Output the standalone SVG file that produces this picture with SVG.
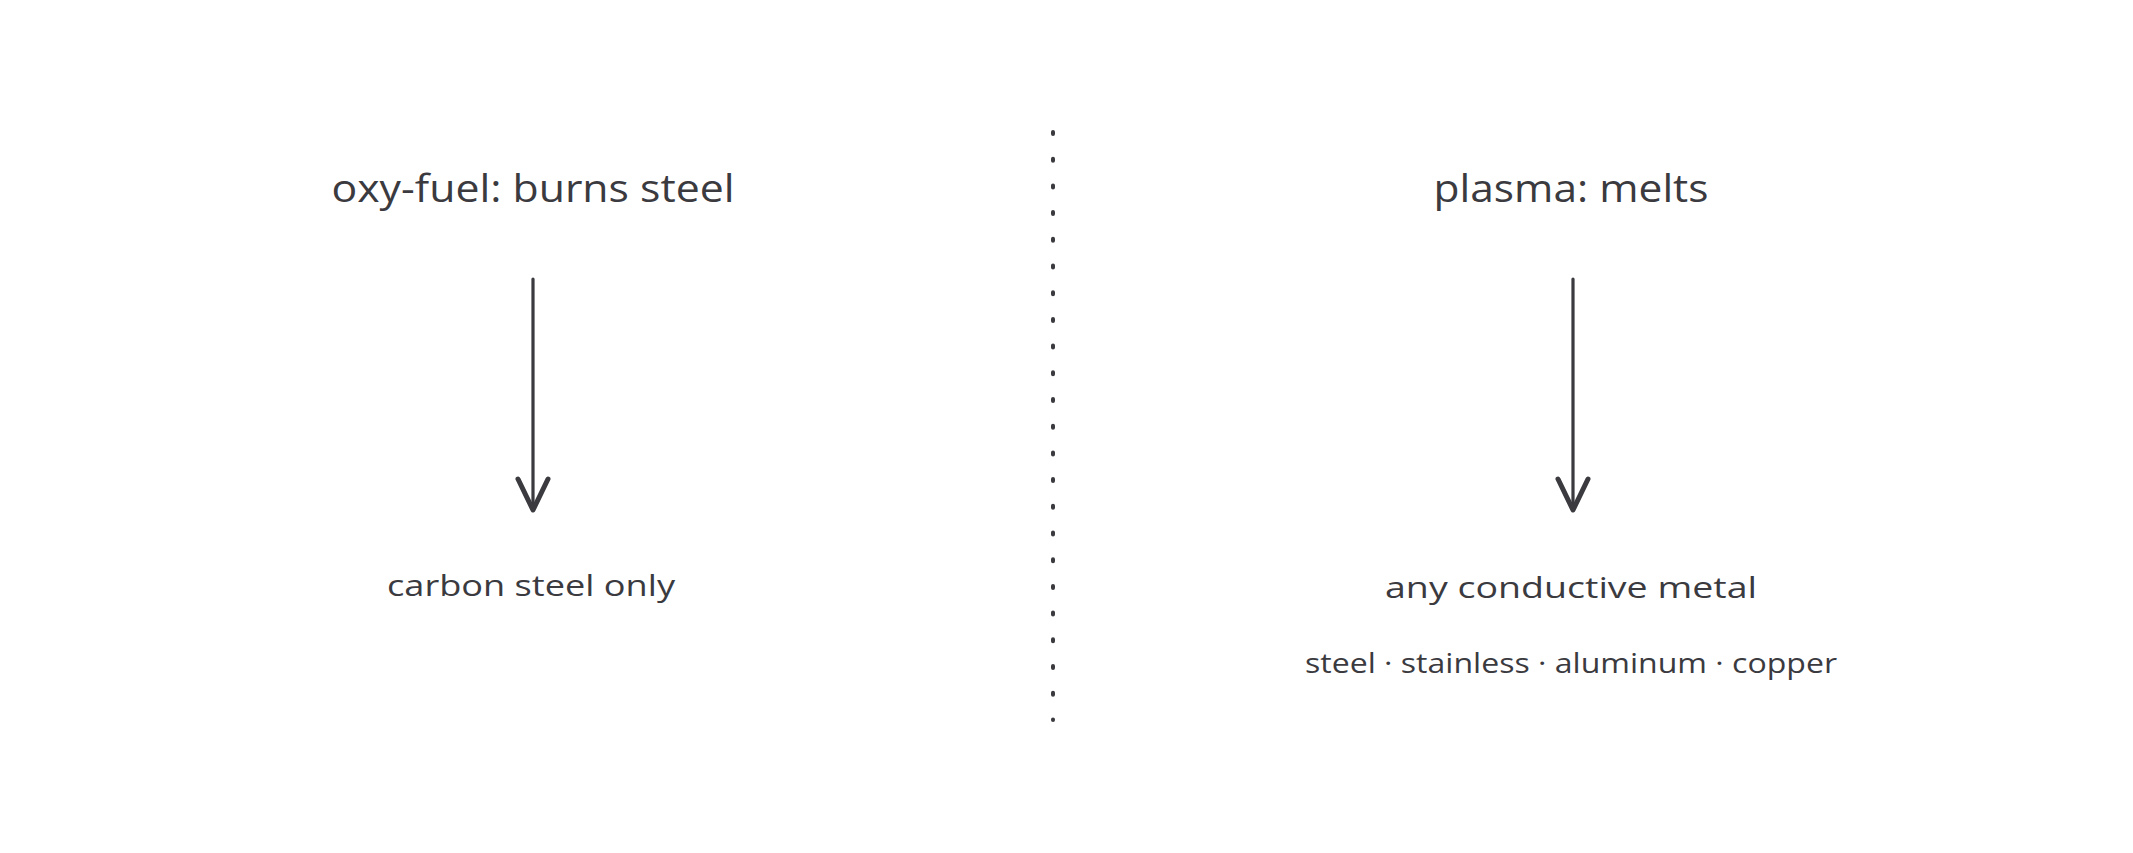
<svg xmlns="http://www.w3.org/2000/svg" width="2133" height="853" viewBox="0 0 2133 853">
<style>
.t{font-family:"Open Sans","DejaVu Sans",sans-serif;fill:#3a3a3f;text-anchor:middle}
.h{font-size:39px}
.m{font-size:30px}
.s{font-size:27px}
.shaft{stroke:#3a3a3f;stroke-width:3.2;fill:none;stroke-linecap:round}
.head{stroke:#3a3a3f;stroke-width:5;fill:none;stroke-linecap:round;stroke-linejoin:round}
</style>
<rect width="2133" height="853" fill="#ffffff"/>
<g id="divider">
<line x1="1053" y1="132" x2="1053" y2="720" stroke="#3a3a3f" stroke-width="4" stroke-dasharray="2 24.7" stroke-linecap="round"/>
</g>
<g id="oxy-title"><text class="t h" x="533" y="202" textLength="403" lengthAdjust="spacingAndGlyphs">oxy-fuel: burns steel</text></g>
<g id="oxy-result"><text class="t m" x="531" y="596" textLength="288" lengthAdjust="spacingAndGlyphs">carbon steel only</text></g>
<g id="plasma-title"><text class="t h" x="1571" y="202" textLength="275" lengthAdjust="spacingAndGlyphs">plasma: melts</text></g>
<g id="plasma-result"><text class="t m" x="1571" y="598" textLength="372" lengthAdjust="spacingAndGlyphs">any conductive metal</text></g>
<g id="plasma-metals"><text class="t s" x="1571" y="673" textLength="532" lengthAdjust="spacingAndGlyphs">steel · stainless · aluminum · copper</text></g>
<g id="connectors">
<line class="shaft" x1="533" y1="279" x2="533" y2="509"/>
<path class="head" d="M518 479 L533 510 L548 479"/>
<line class="shaft" x1="1573" y1="279" x2="1573" y2="509"/>
<path class="head" d="M1558 479 L1573 510 L1588 479"/>
</g>
</svg>
